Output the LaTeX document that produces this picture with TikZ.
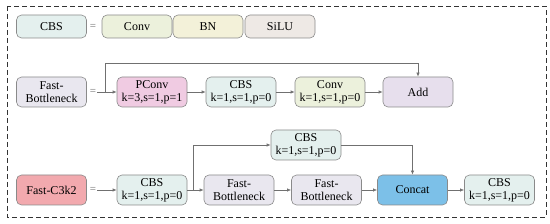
\documentclass[tikz,border=0pt]{standalone}
\usepackage{fontspec}
\setmainfont{Liberation Serif}
\usetikzlibrary{arrows.meta}
\definecolor{cbsc}{HTML}{E4F0EE}
\definecolor{convc}{HTML}{ECF1DC}
\definecolor{bnc}{HTML}{F3F1D9}
\definecolor{siluc}{HTML}{EEE9E5}
\definecolor{fbc}{HTML}{E9E7EF}
\definecolor{pconvc}{HTML}{F0CBE2}
\definecolor{addc}{HTML}{E7DFED}
\definecolor{c3c}{HTML}{F2A9AE}
\definecolor{concatc}{HTML}{7CC0E8}
\definecolor{edgec}{HTML}{8A8A8A}
\definecolor{linec}{HTML}{707070}
\tikzset{
  blk/.style={draw=edgec, line width=0.6pt, rounded corners=5pt, minimum width=70pt, align=center, inner sep=0pt, font=\fontsize{12}{13}\selectfont},
  onerow/.style={blk, minimum height=23pt},
  tworow/.style={blk, minimum height=30pt},
  eqs/.style={text=linec, inner sep=0pt, font=\fontsize{11}{12}\selectfont},
  conn/.style={draw=linec, line width=0.6pt, -{Latex[length=4pt,width=3.2pt]}},
  plain/.style={draw=linec, line width=0.6pt}
}
\begin{document}
\begin{tikzpicture}[x=1pt,y=-1pt]
\useasboundingbox (0,0) rectangle (550,224);
\draw[dashed, line width=0.8pt, dash pattern=on 5pt off 3pt, draw=black!80] (7,6) rectangle (546,217);
% row 1
\node[onerow, fill=cbsc] (cbs0) at (51.5,26.5) {CBS};
\node[eqs] (eq1) at (93,26.5) {=};
\node[onerow, fill=convc] (conv0) at (137,26.5) {Conv};
\node[onerow, fill=bnc] (bn0) at (208,26.5) {BN};
\node[onerow, fill=siluc] (silu0) at (280,26.5) {SiLU};
% row 2
\node[tworow, fill=fbc] (fb0) at (51.5,92) {Fast-\\Bottleneck};
\node[eqs] (eq2) at (93,92) {=};
\node[tworow, fill=pconvc] (pconv) at (152,92) {PConv\\k=3,s=1,p=1};
\node[tworow, fill=cbsc] (cbs1) at (241,92) {CBS\\k=1,s=1,p=0};
\node[tworow, fill=convc] (conv1) at (330,92) {Conv\\k=1,s=1,p=0};
\node[tworow, fill=addc] (add) at (418,92) {Add};
\coordinate (s2) at (97,92);
\coordinate (b2) at (105,92);
\coordinate (t2) at (418,63);
\draw[conn] (s2) -- (pconv);
\draw[conn] (pconv) -- (cbs1);
\draw[conn] (cbs1) -- (conv1);
\draw[conn] (conv1) -- (add);
\draw[conn] (b2) |- (t2) -- (add.north);
% row 3
\node[tworow, fill=c3c] (c3) at (51.5,190) {Fast-C3k2};
\node[eqs] (eq3) at (93,190) {=};
\node[tworow, fill=cbsc] (cbs2) at (152,190) {CBS\\k=1,s=1,p=0};
\node[tworow, fill=fbc] (fb1) at (239,190) {Fast-\\Bottleneck};
\node[tworow, fill=fbc] (fb2) at (326.5,190) {Fast-\\Bottleneck};
\node[tworow, fill=concatc] (concat) at (412.5,190) {Concat};
\node[tworow, fill=cbsc] (cbs4) at (499.5,190) {CBS\\k=1,s=1,p=0};
\node[tworow, fill=cbsc] (cbs3) at (306,145) {CBS\\k=1,s=1,p=0};
\coordinate (s3) at (97,190);
\coordinate (b3) at (193,190);
\draw[conn] (s3) -- (cbs2);
\draw[conn] (cbs2) -- (fb1);
\draw[conn] (fb1) -- (fb2);
\draw[conn] (fb2) -- (concat);
\draw[conn] (concat) -- (cbs4);
\draw[conn] (b3) |- (cbs3);
\draw[conn] (cbs3.east) -| (concat.north);
\end{tikzpicture}
\end{document}
